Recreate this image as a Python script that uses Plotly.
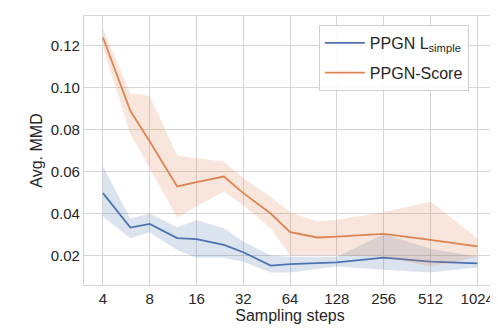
import plotly.graph_objects as go

steps = [4, 6, 8, 12, 16, 24, 32, 48, 64, 96, 128, 256, 512, 1024]

simple_mean = [0.0497, 0.0333, 0.0351, 0.0283, 0.0278, 0.0251, 0.0216, 0.0152, 0.0159, 0.0164, 0.0168, 0.0190, 0.0171, 0.0163]
simple_hi = [0.0625, 0.0375, 0.0400, 0.0335, 0.0368, 0.0330, 0.0267, 0.0200, 0.0195, 0.0195, 0.0195, 0.0303, 0.0232, 0.0195]
simple_lo = [0.0386, 0.0283, 0.0311, 0.0227, 0.0190, 0.0190, 0.0171, 0.0119, 0.0119, 0.0134, 0.0148, 0.0132, 0.0119, 0.0143]

score_mean = [0.1238, 0.0889, 0.0743, 0.0529, 0.0550, 0.0576, 0.0497, 0.0400, 0.0311, 0.0286, 0.0290, 0.0303, 0.0275, 0.0244]
score_hi = [0.1280, 0.0973, 0.0960, 0.0676, 0.0663, 0.0648, 0.0568, 0.0480, 0.0406, 0.0362, 0.0370, 0.0406, 0.0457, 0.0283]
score_lo = [0.1190, 0.0778, 0.0616, 0.0381, 0.0433, 0.0505, 0.0440, 0.0330, 0.0200, 0.0200, 0.0200, 0.0195, 0.0148, 0.0195]

tick_steps = [4, 8, 16, 32, 64, 128, 256, 512, 1024]
y_ticks = [0.02, 0.04, 0.06, 0.08, 0.10, 0.12]

blue = "#4c72b0"
orange = "#dd8452"

fig = go.Figure()

def add_series(mean, lo, hi, color, fill, name, group):
    fig.add_trace(go.Scatter(x=steps, y=hi, mode="lines", line=dict(width=0),
                             showlegend=False, hoverinfo="skip", legendgroup=group))
    fig.add_trace(go.Scatter(x=steps, y=lo, mode="lines", line=dict(width=0),
                             fill="tonexty", fillcolor=fill, legendgroup=group,
                             showlegend=False, hoverinfo="skip"))
    fig.add_trace(go.Scatter(x=steps, y=mean, mode="lines", name=name, legendgroup=group,
                             line=dict(color=color, width=1.8)))

add_series(simple_mean, simple_lo, simple_hi, blue, "rgba(76,114,176,0.2)", "PPGN L<sub>simple</sub>", "a")
add_series(score_mean, score_lo, score_hi, orange, "rgba(221,132,82,0.2)", "PPGN-Score", "b")

fig.update_layout(
    width=498, height=336,
    margin=dict(l=76, r=10, t=8, b=59),
    paper_bgcolor="white", plot_bgcolor="white",
    font=dict(family="Liberation Sans, Arial, sans-serif", size=15, color="#262626"),
    legend=dict(x=0.57, y=0.967, xanchor="left", yanchor="top", traceorder="grouped",
                bordercolor="#d0d0d0", borderwidth=1, bgcolor="rgba(255,255,255,0.85)",
                font=dict(size=16), tracegroupgap=6, itemwidth=40),
    showlegend=True,
)
fig.update_xaxes(type="log", range=[0.480, 3.131],
                 tickvals=tick_steps, ticktext=[str(t) for t in tick_steps],
                 showgrid=True, gridcolor="#d5d5d5", gridwidth=1,
                 showline=True, linecolor="#d5d5d5", mirror=True, linewidth=1.2,
                 ticks="", zeroline=False,
                 title=dict(text="Sampling steps", font=dict(size=16), standoff=2))
fig.update_yaxes(range=[0.006, 0.134], tickvals=y_ticks,
                 ticktext=["%.2f" % v for v in y_ticks],
                 showgrid=True, gridcolor="#d5d5d5", gridwidth=1,
                 showline=True, linecolor="#d5d5d5", mirror=True, linewidth=1.2,
                 ticks="", zeroline=False,
                 title=dict(text="Avg. MMD", font=dict(size=16), standoff=4))

fig.write_html("out.html")
